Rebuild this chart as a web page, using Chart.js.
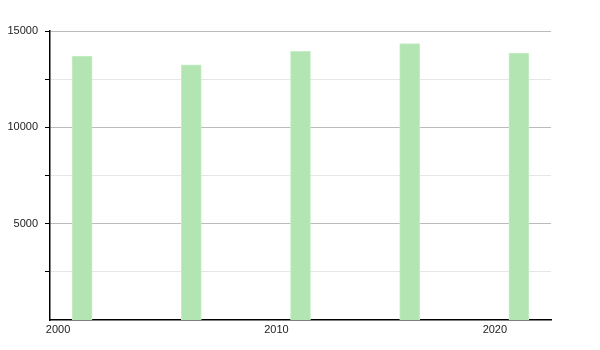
<!DOCTYPE html>
<html>
<head>
<meta charset="utf-8">
<script src="https://cdn.jsdelivr.net/npm/chart.js@4/dist/chart.umd.min.js"></script>
<style>
html,body{margin:0;padding:0;background:#fff;}
#wrap{width:600px;height:350px;}
</style>
</head>
<body>
<div id="wrap"><canvas id="c" width="600" height="350"></canvas></div>
<script>
const years = [2001.1, 2006.1, 2011.1, 2016.1, 2021.1];
const values = [13700, 13250, 13950, 14350, 13850];
const xTicks = [2000, 2010, 2020];
const yTicks = [2500, 5000, 7500, 10000, 12500, 15000];

const ctx = document.getElementById('c').getContext('2d');
new Chart(ctx, {
  type: 'bar',
  data: {
    datasets: [{
      data: years.map((y, i) => ({x: y, y: values[i]})),
      backgroundColor: '#b2e5b2',
      borderColor: '#c6edc6',
      borderWidth: 1,
      barThickness: 20
    }]
  },
  options: {
    responsive: false,
    animation: false,
    layout: {padding: {top: 31, right: 49, left: 0, bottom: 0}},
    plugins: {legend: {display: false}, tooltip: {enabled: false}},
    scales: {
      x: {
        type: 'linear',
        min: 1999.63,
        max: 2022.57,
        offset: false,
        afterBuildTicks: s => { s.ticks = xTicks.map(v => ({value: v})); },
        afterFit: s => { s.height = 30; },
        grid: {display: false, drawTicks: false},
        border: {display: true, color: '#000', width: 1.5},
        ticks: {
          callback: v => String(v),
          color: '#222',
          font: {family: 'Liberation Sans', size: 11},
          padding: 3,
          maxRotation: 0
        }
      },
      y: {
        min: 0,
        max: 15000,
        afterBuildTicks: s => { s.ticks = yTicks.map(v => ({value: v})); },
        afterFit: s => { s.width = 50; },
        grid: {
          color: c => (c.tick && c.tick.value % 5000 === 0) ? '#bbbbbb' : '#e6e6e6',
          tickColor: '#000',
          tickLength: 5
        },
        border: {display: true, color: '#000', width: 1.5},
        ticks: {
          callback: v => (v % 5000 === 0 ? String(v) : ''),
          color: '#222',
          font: {family: 'Liberation Sans', size: 11},
          padding: 7
        }
      }
    }
  }
});
</script>
</body>
</html>
